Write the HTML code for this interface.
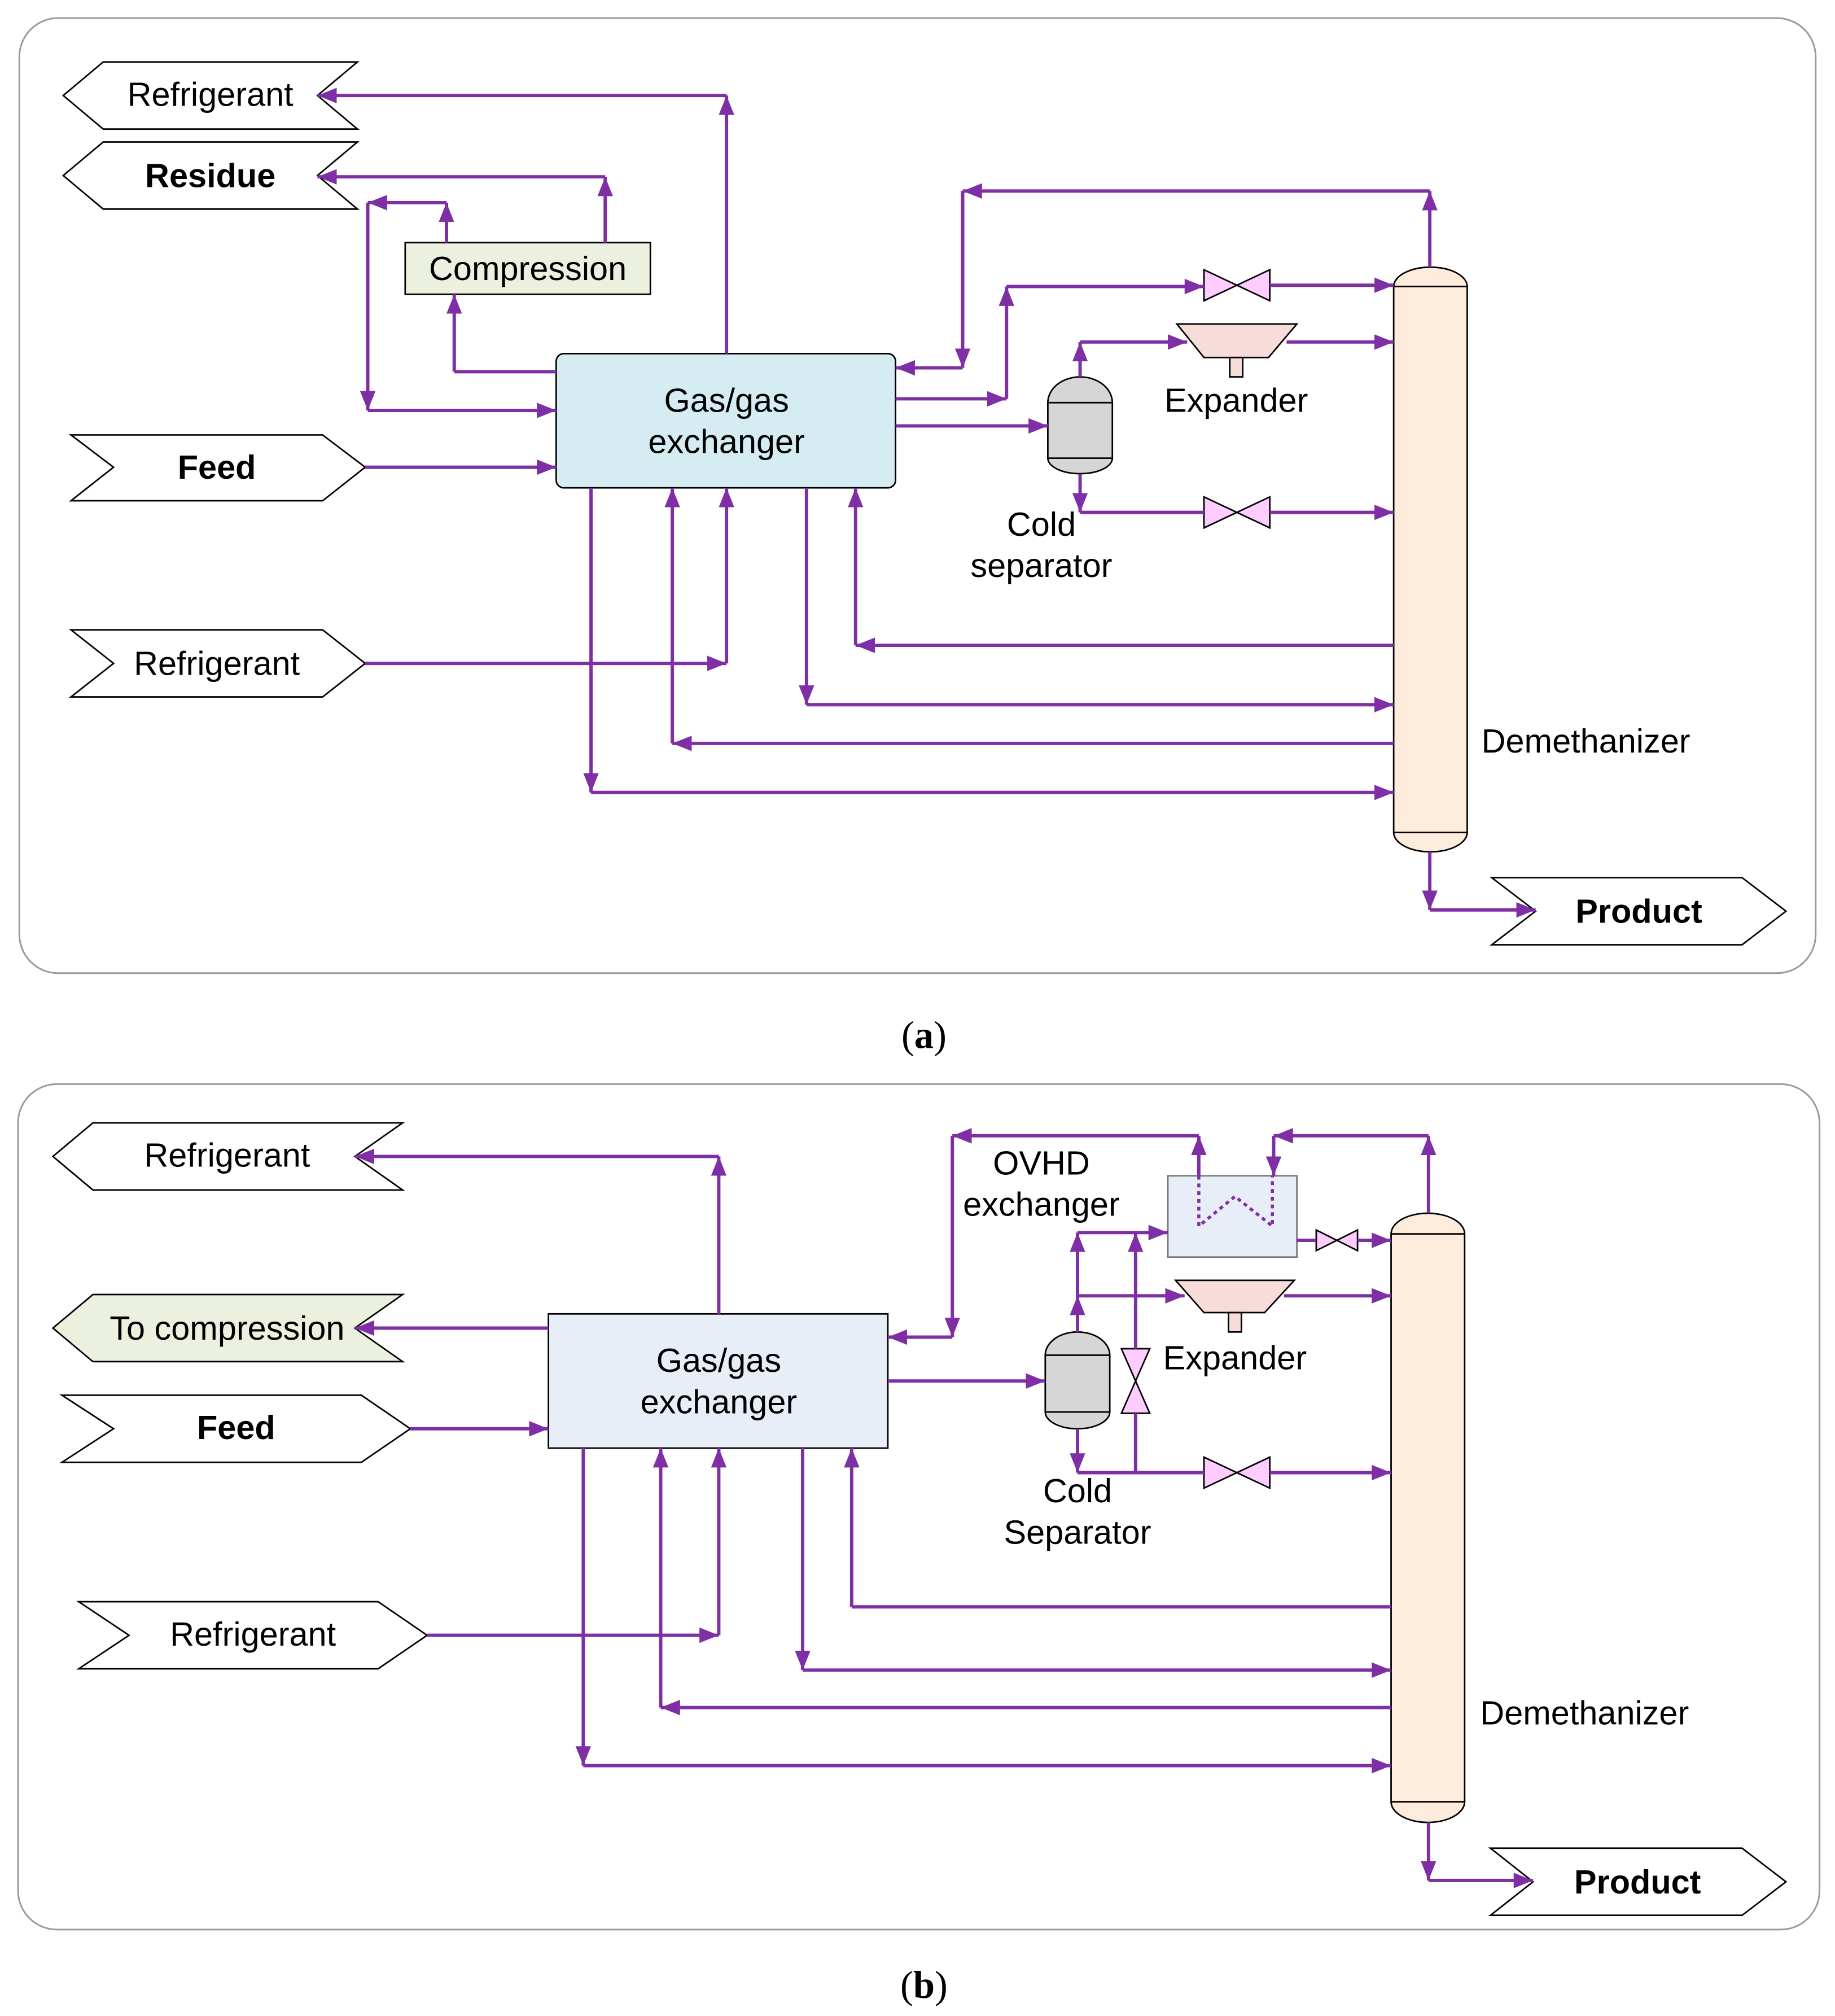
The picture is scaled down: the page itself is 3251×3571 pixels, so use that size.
<!DOCTYPE html>
<html><head><meta charset="utf-8"><style>
html,body{margin:0;padding:0;background:#fff}
svg{display:block}
text{font-family:"Liberation Sans",sans-serif;font-size:26px;fill:#000}
.b{font-weight:bold}
.c{text-anchor:middle}
.ln line{stroke:#7F2FA5;stroke-width:2.6}
.ln line.a{marker-end:url(#ar)}
.eq{stroke:#000;stroke-width:1.2}
</style></head><body>
<svg width="3251" height="3571" viewBox="0 0 1422 1562" preserveAspectRatio="none" xmlns="http://www.w3.org/2000/svg">
<defs>
<marker id="ar" viewBox="0 0 15 12" refX="15" refY="6" markerWidth="15" markerHeight="12" markerUnits="userSpaceOnUse" orient="auto"><path d="M0,0L15,6L0,12z" fill="#7F2FA5"/></marker>
</defs>
<rect width="1422" height="1562" fill="#fff"/>

<!-- ===== Panel a ===== -->
<rect x="15" y="14" width="1392" height="740" rx="30" fill="#fff" stroke="#9a9a9a" stroke-width="1.3"/>
<g class="eq" fill="#fff">
<polygon points="49,74 80,48 277,48 246,74 277,100 80,100"/>
<polygon points="49,136 80,110 277,110 246,136 277,162 80,162"/>
<polygon points="55,337 250,337 283,362 250,388 55,388 88,362"/>
<polygon points="55,488 250,488 283,514 250,540 55,540 88,514"/>
<polygon points="1156,680 1350,680 1384,706 1350,732 1156,732 1190,706"/>
<rect x="314" y="188" width="190" height="40" fill="#EBF1DE"/>
<rect x="431" y="274" width="263" height="104" rx="6" fill="#D5EDF2"/>
<path d="M812,312 A25,20 0 0 1 862,312 L862,355 A25,12 0 0 1 812,355 Z" fill="#D6D6D6"/>
<line x1="812" y1="312" x2="862" y2="312"/><line x1="812" y1="355" x2="862" y2="355"/>
<polygon points="933,209 984,233 984,209 933,233" fill="#FFCCFF"/>
<polygon points="933,385 984,409 984,385 933,409" fill="#FFCCFF"/>
<polygon points="912,251 1005,251 983,277 933,277" fill="#F8DCDA"/>
<rect x="953" y="277" width="10" height="15" fill="#F8DCDA"/>
<path d="M1080,222 A28.5,15 0 0 1 1137,222 L1137,645 A28.5,15 0 0 1 1080,645 Z" fill="#FDEBDC"/>
<line x1="1080" y1="222" x2="1137" y2="222"/><line x1="1080" y1="645" x2="1137" y2="645"/>
</g>
<g class="ln">
<line class="a" x1="563" y1="274" x2="563" y2="74"/><line class="a" x1="563" y1="74" x2="246" y2="74"/>
<line class="a" x1="469" y1="188" x2="469" y2="137"/><line class="a" x1="469" y1="137" x2="246" y2="137"/>
<line class="a" x1="346" y1="188" x2="346" y2="157"/><line class="a" x1="346" y1="157" x2="285" y2="157"/>
<line class="a" x1="285" y1="157" x2="285" y2="318"/><line class="a" x1="285" y1="318" x2="431" y2="318"/>
<line x1="431" y1="288" x2="352" y2="288"/><line class="a" x1="352" y1="288" x2="352" y2="228"/>
<line class="a" x1="283" y1="362" x2="431" y2="362"/>
<line class="a" x1="283" y1="514" x2="563" y2="514"/><line class="a" x1="563" y1="514" x2="563" y2="378"/>
<line class="a" x1="1108" y1="207" x2="1108" y2="148"/><line class="a" x1="1108" y1="148" x2="746" y2="148"/>
<line class="a" x1="746" y1="148" x2="746" y2="285"/><line class="a" x1="746" y1="285" x2="694" y2="285"/>
<line class="a" x1="694" y1="309" x2="780" y2="309"/><line class="a" x1="780" y1="309" x2="780" y2="222"/>
<line class="a" x1="780" y1="222" x2="933" y2="222"/><line class="a" x1="984" y1="221" x2="1080" y2="221"/>
<line class="a" x1="694" y1="330" x2="812" y2="330"/>
<line class="a" x1="837" y1="292" x2="837" y2="265"/><line class="a" x1="837" y1="265" x2="920" y2="265"/>
<line class="a" x1="997" y1="265" x2="1080" y2="265"/>
<line class="a" x1="837" y1="367" x2="837" y2="397"/><line x1="837" y1="397" x2="933" y2="397"/>
<line class="a" x1="984" y1="397" x2="1080" y2="397"/>
<line class="a" x1="1080" y1="500" x2="663" y2="500"/><line class="a" x1="663" y1="500" x2="663" y2="378"/>
<line class="a" x1="625" y1="378" x2="625" y2="546"/><line class="a" x1="625" y1="546" x2="1080" y2="546"/>
<line class="a" x1="1080" y1="576" x2="521" y2="576"/><line class="a" x1="521" y1="576" x2="521" y2="378"/>
<line class="a" x1="458" y1="378" x2="458" y2="614"/><line class="a" x1="458" y1="614" x2="1080" y2="614"/>
<line class="a" x1="1108" y1="660" x2="1108" y2="705"/><line class="a" x1="1108" y1="705" x2="1190" y2="705"/>
</g>
<text class="c" x="163" y="82">Refrigerant</text>
<text class="c b" x="163" y="145">Residue</text>
<text class="c b" x="168" y="371">Feed</text>
<text class="c" x="168" y="523">Refrigerant</text>
<text class="c b" x="1270" y="715">Product</text>
<text class="c" x="409" y="217">Compression</text>
<text class="c" x="563" y="319">Gas/gas</text>
<text class="c" x="563" y="351">exchanger</text>
<text class="c" x="958" y="319">Expander</text>
<text class="c" x="807" y="415">Cold</text>
<text class="c" x="807" y="447">separator</text>
<text x="1148" y="583">Demethanizer</text>
<text class="c" x="716" y="812" style="font-family:'Liberation Serif',serif;font-size:30px">(<tspan font-weight="bold">a</tspan>)</text>

<!-- ===== Panel b ===== -->
<rect x="14" y="840" width="1396" height="655" rx="30" fill="#fff" stroke="#9a9a9a" stroke-width="1.3"/>
<g class="eq" fill="#fff">
<polygon points="41,896 72,870 312,870 275,896 312,922 72,922"/>
<polygon points="41,1029 72,1003 312,1003 275,1029 312,1055 72,1055" fill="#EBF1DE"/>
<polygon points="48,1081 280,1081 318,1107 280,1133 48,1133 88,1107"/>
<polygon points="61,1241 293,1241 331,1267 293,1293 61,1293 100,1267"/>
<polygon points="1155,1432 1350,1432 1384,1458 1350,1484 1155,1484 1188,1458"/>
<rect x="425" y="1018" width="263" height="104" fill="#E8EEF7"/>
<rect x="905" y="911" width="100" height="63" fill="#E8EEF7" stroke="#777"/>
<path d="M810,1050 A25,18 0 0 1 860,1050 L860,1094 A25,13 0 0 1 810,1094 Z" fill="#D6D6D6"/>
<line x1="810" y1="1050" x2="860" y2="1050"/><line x1="810" y1="1094" x2="860" y2="1094"/>
<polygon points="1020,953 1052,969 1052,953 1020,969" fill="#FFCCFF"/>
<polygon points="933,1129 984,1153 984,1129 933,1153" fill="#FFCCFF"/>
<polygon points="869,1045 891,1045 869,1095 891,1095" fill="#FFCCFF"/>
<polygon points="911,992 1003,992 980,1017 933,1017" fill="#F8DCDA"/>
<rect x="952" y="1017" width="10" height="15" fill="#F8DCDA"/>
<path d="M1078,956 A28.5,16 0 0 1 1135,956 L1135,1396 A28.5,16 0 0 1 1078,1396 Z" fill="#FDEBDC"/>
<line x1="1078" y1="956" x2="1135" y2="956"/><line x1="1078" y1="1396" x2="1135" y2="1396"/>
</g>
<polyline points="929,911 929,950 957,927 986,950 986,911" fill="none" stroke="#7F2FA5" stroke-width="2.4" stroke-dasharray="3,3"/>
<g class="ln">
<line class="a" x1="557" y1="1018" x2="557" y2="896"/><line class="a" x1="557" y1="896" x2="275" y2="896"/>
<line class="a" x1="425" y1="1029" x2="275" y2="1029"/>
<line class="a" x1="318" y1="1107" x2="425" y2="1107"/>
<line class="a" x1="331" y1="1267" x2="557" y2="1267"/><line class="a" x1="557" y1="1267" x2="557" y2="1122"/>
<line class="a" x1="929" y1="911" x2="929" y2="880"/><line class="a" x1="929" y1="880" x2="738" y2="880"/>
<line class="a" x1="738" y1="880" x2="738" y2="1036"/><line class="a" x1="738" y1="1036" x2="688" y2="1036"/>
<line class="a" x1="1107" y1="940" x2="1107" y2="880"/><line class="a" x1="1107" y1="880" x2="987" y2="880"/>
<line class="a" x1="987" y1="880" x2="987" y2="911"/>
<line x1="1005" y1="961" x2="1020" y2="961"/><line class="a" x1="1052" y1="961" x2="1078" y2="961"/>
<line class="a" x1="688" y1="1070" x2="810" y2="1070"/>
<line class="a" x1="835" y1="1032" x2="835" y2="1004"/><line class="a" x1="835" y1="1004" x2="835" y2="955"/>
<line class="a" x1="835" y1="955" x2="905" y2="955"/>
<line class="a" x1="835" y1="1004" x2="918" y2="1004"/><line class="a" x1="995" y1="1004" x2="1078" y2="1004"/>
<line class="a" x1="835" y1="1107" x2="835" y2="1141"/><line x1="835" y1="1141" x2="933" y2="1141"/>
<line class="a" x1="984" y1="1141" x2="1078" y2="1141"/>
<line x1="880" y1="1141" x2="880" y2="1095"/><line class="a" x1="880" y1="1045" x2="880" y2="955"/>
<line x1="1078" y1="1245" x2="660" y2="1245"/><line class="a" x1="660" y1="1245" x2="660" y2="1122"/>
<line class="a" x1="622" y1="1122" x2="622" y2="1294"/><line class="a" x1="622" y1="1294" x2="1078" y2="1294"/>
<line class="a" x1="1078" y1="1323" x2="512" y2="1323"/><line class="a" x1="512" y1="1323" x2="512" y2="1122"/>
<line class="a" x1="452" y1="1122" x2="452" y2="1368"/><line class="a" x1="452" y1="1368" x2="1078" y2="1368"/>
<line class="a" x1="1107" y1="1412" x2="1107" y2="1457"/><line class="a" x1="1107" y1="1457" x2="1188" y2="1457"/>
</g>
<text class="c" x="176" y="904">Refrigerant</text>
<text class="c" x="176" y="1038">To compression</text>
<text class="c b" x="183" y="1115">Feed</text>
<text class="c" x="196" y="1275">Refrigerant</text>
<text class="c b" x="1269" y="1467">Product</text>
<text class="c" x="557" y="1063">Gas/gas</text>
<text class="c" x="557" y="1095">exchanger</text>
<text class="c" x="807" y="910">OVHD</text>
<text class="c" x="807" y="942">exchanger</text>
<text class="c" x="957" y="1061">Expander</text>
<text class="c" x="835" y="1164">Cold</text>
<text class="c" x="835" y="1196">Separator</text>
<text x="1147" y="1336">Demethanizer</text>
<text class="c" x="716" y="1548" style="font-family:'Liberation Serif',serif;font-size:30px">(<tspan font-weight="bold">b</tspan>)</text>
</svg>
</body></html>
